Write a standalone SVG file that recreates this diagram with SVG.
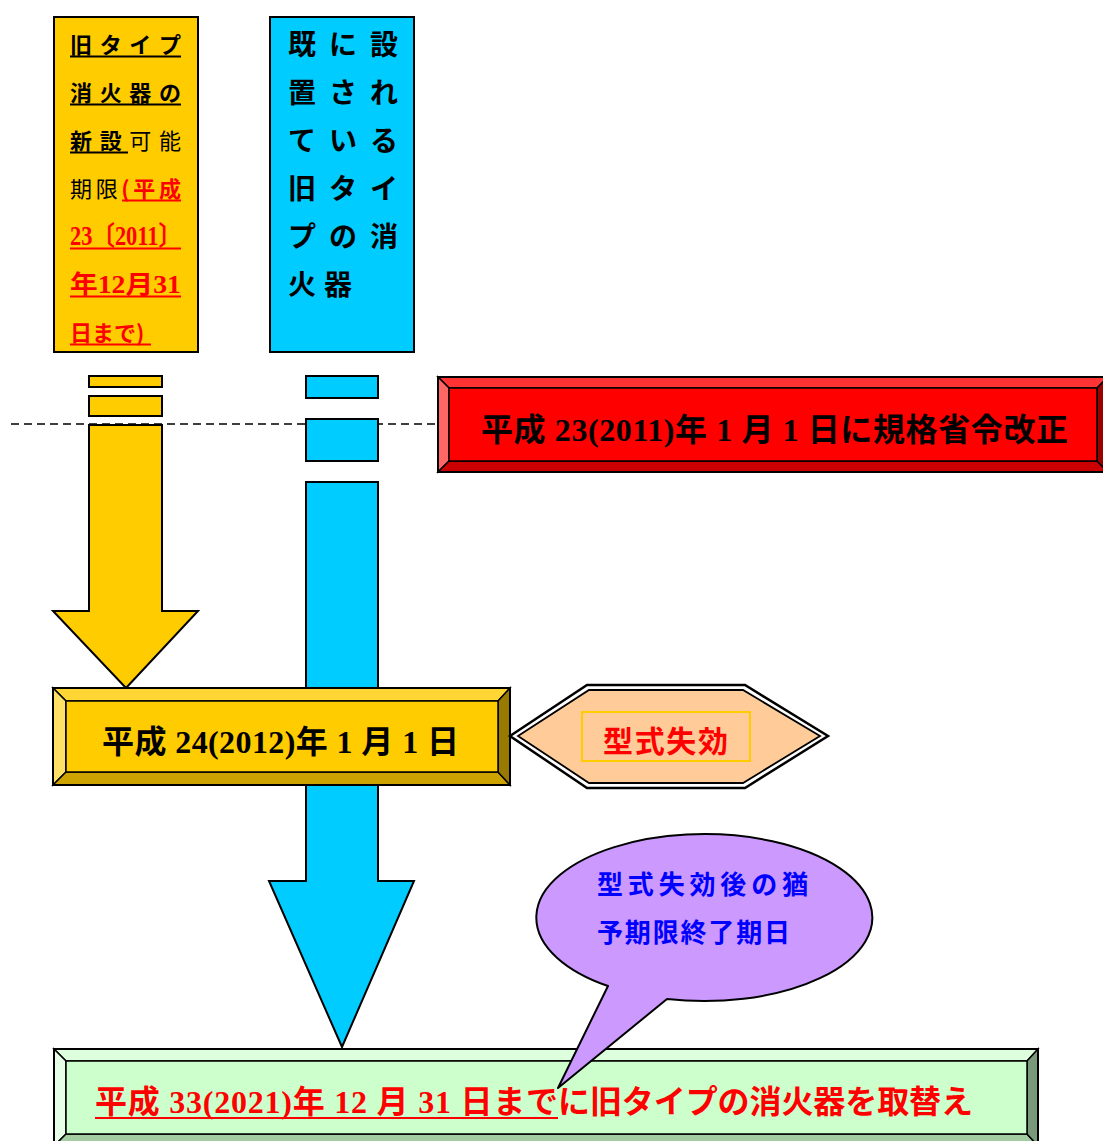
<svg xmlns="http://www.w3.org/2000/svg" width="1103" height="1141" viewBox="0 0 1103 1141">
<style>
.sans{font-family:"Noto Sans CJK JP","Noto Sans",sans-serif;}
.ser{font-family:"Liberation Serif","Noto Sans CJK JP",serif;font-weight:bold;}
.b{font-weight:bold;}
.k{stroke:#000;stroke-width:2;}
.bv{stroke:#000;stroke-width:1.5;}
</style>
<rect width="1103" height="1141" fill="#fff"/>
<g id="connectors">
  <line x1="11" y1="424" x2="438" y2="424" stroke="#000" stroke-width="1.5" stroke-dasharray="8,5"/>
  <rect x="89" y="376" width="73" height="11" fill="#FFCC00" class="k"/>
  <rect x="89" y="396" width="73" height="20" fill="#FFCC00" class="k"/>
  <polygon points="89,425 162,425 162,611 198,611 126,688 53,611 89,611" fill="#FFCC00" class="k"/>
  <rect x="306" y="376" width="72" height="22" fill="#00CCFF" class="k"/>
  <rect x="306" y="419" width="72" height="42" fill="#00CCFF" class="k"/>
  <polygon points="306,482 378,482 378,881 414,881 342,1047 269,881 306,881" fill="#00CCFF" class="k"/>
</g>
<g id="old-type-box">
  <rect x="54" y="17" width="144" height="335" fill="#FFCC00" class="k"/>
  <g class="sans" font-size="22">
    <text x="70" y="53" textLength="111" class="b">旧タイプ</text>
    <text x="70" y="101" textLength="111" class="b">消火器の</text>
    <text x="70" y="149" textLength="111"><tspan class="b">新設</tspan>可能</text>
    <text x="70" y="197" textLength="111">期限<tspan class="b" fill="#FF0000">(平成</tspan></text>
    <text x="70" y="245" font-size="27" textLength="111" lengthAdjust="spacingAndGlyphs" class="ser" fill="#FF0000">23〔2011〕</text>
    <text x="70" y="293" font-size="25" textLength="111" lengthAdjust="spacingAndGlyphs" class="ser" fill="#FF0000">年12月31</text>
    <text x="70" y="341" class="b" fill="#FF0000">日まで)</text>
  </g>
  <g stroke-width="2">
    <line x1="70" y1="56.5" x2="181" y2="56.5" stroke="#000"/>
    <line x1="70" y1="104.5" x2="181" y2="104.5" stroke="#000"/>
    <line x1="70" y1="152.5" x2="128" y2="152.5" stroke="#000"/>
    <line x1="122" y1="200.5" x2="181" y2="200.5" stroke="#FF0000"/>
    <line x1="70" y1="248.5" x2="181" y2="248.5" stroke="#FF0000"/>
    <line x1="70" y1="296.5" x2="181" y2="296.5" stroke="#FF0000"/>
    <line x1="70" y1="344.5" x2="151" y2="344.5" stroke="#FF0000"/>
  </g>
</g>
<g id="existing-box">
  <rect x="270" y="17" width="144" height="335" fill="#00CCFF" class="k"/>
  <g class="sans b" font-size="28" letter-spacing="13">
    <text x="288" y="55">既に設</text>
    <text x="288" y="103">置され</text>
    <text x="288" y="151">ている</text>
    <text x="288" y="199">旧タイ</text>
    <text x="288" y="247">プの消</text>
    <text x="288" y="295" letter-spacing="8">火器</text>
  </g>
</g>
<g id="revision-2011">
  <polygon points="438,377 1108,377 1097,388 449,388" fill="#FF3333" class="bv"/>
  <polygon points="438,377 449,388 449,461 438,472" fill="#FF6666" class="bv"/>
  <polygon points="438,472 449,461 1097,461 1108,472" fill="#CC0000" class="bv"/>
  <polygon points="1108,377 1097,388 1097,461 1108,472" fill="#990000" class="bv"/>
  <rect x="449" y="388" width="648" height="73" fill="#FF0000" class="bv"/>
  <rect x="438" y="377" width="670" height="95" fill="none" class="k"/>
  <text x="481" y="441" font-size="32" textLength="587" class="ser" fill="#000">平成 23(2011)年 1 月 1 日に規格省令改正</text>
</g>
<g id="date-2012">
  <polygon points="53,688 510,688 498,701 66,701" fill="#FFD633" class="bv"/>
  <polygon points="53,688 66,701 66,772 53,785" fill="#FFE066" class="bv"/>
  <polygon points="53,785 66,772 498,772 510,785" fill="#CCA300" class="bv"/>
  <polygon points="510,688 498,701 498,772 510,785" fill="#997A00" class="bv"/>
  <rect x="66" y="701" width="432" height="71" fill="#FFCC00" class="bv"/>
  <rect x="53" y="688" width="457" height="97" fill="none" class="k"/>
  <text x="102" y="753" font-size="32" textLength="357" class="ser" fill="#000">平成 24(2012)年 1 月 1 日</text>
</g>
<g id="type-expiry">
  <polygon points="510,736 587,685 745,685 828,736 745,788 587,788" fill="#fff" stroke="#000" stroke-width="2.5"/>
  <polygon points="518,736 589,690 743,690 820,736 743,783 589,783" fill="#FFCC99" stroke="#000" stroke-width="1.8"/>
  <rect x="582" y="712" width="168" height="49" fill="none" stroke="#FFCC00" stroke-width="2"/>
  <text x="603" y="752" font-size="30" textLength="125" class="sans b" fill="#FF0000">型式失効</text>
</g>
<g id="deadline-2021">
  <polygon points="54,1049 1038,1049 1027,1061 66,1061" fill="#DDFFDD" class="bv"/>
  <polygon points="54,1049 66,1061 66,1134 54,1146" fill="#E6FFE6" class="bv"/>
  <polygon points="54,1146 66,1134 1027,1134 1038,1146" fill="#A3CCA3" class="bv"/>
  <polygon points="1038,1049 1027,1061 1027,1134 1038,1146" fill="#7A997A" class="bv"/>
  <rect x="66" y="1061" width="961" height="73" fill="#CCFFCC" class="bv"/>
  <rect x="54" y="1049" width="984" height="97" fill="none" class="k"/>
  <text x="95" y="1113" font-size="32" textLength="463" class="ser" fill="#FF0000">平成 33(2021)年 12 月 31 日まで</text>
  <text x="558" y="1113" font-size="32" textLength="415" class="sans b" fill="#FF0000">に旧タイプの消火器を取替え</text>
  <line x1="95" y1="1118" x2="558" y2="1118" stroke="#FF0000" stroke-width="2"/>
</g>
<g id="grace-callout">
  <path d="M608,986 L558,1088 L667,999 A168 83.5 0 1 0 608,986 Z" fill="#CC99FF" stroke="#000" stroke-width="2" stroke-linejoin="round"/>
  <text x="597" y="894" font-size="26" textLength="211" class="sans b" fill="#0000FF">型式失効後の猶</text>
  <text x="597" y="942" font-size="26" textLength="193" class="sans b" fill="#0000FF">予期限終了期日</text>
</g>
</svg>
